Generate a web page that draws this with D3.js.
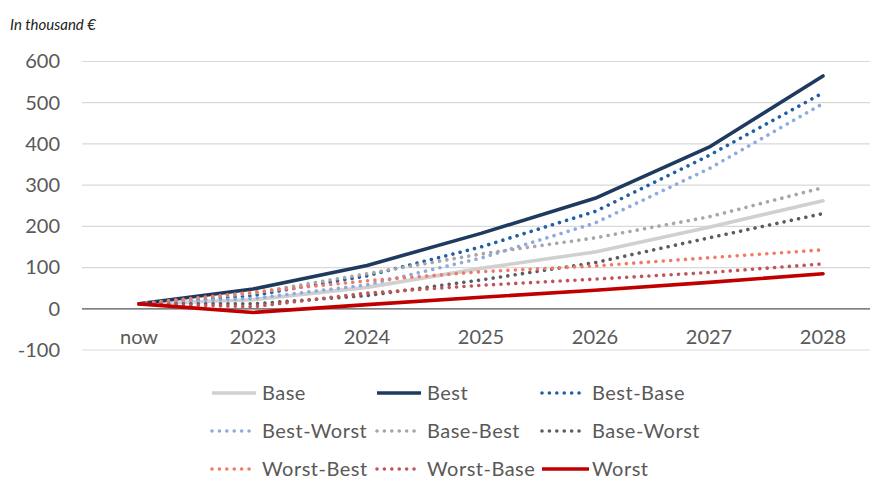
<!DOCTYPE html>
<html>
<head>
<meta charset="utf-8">
<script src="https://cdn.jsdelivr.net/npm/d3@7"></script>
<style>
  html, body { margin: 0; padding: 0; background: #fff; }
  svg { display: block; font-family: Lato, "Open Sans", sans-serif; }
</style>
</head>
<body>
<svg id="chart" width="873" height="479"></svg>
<script>
// Periods on the x axis
const periods = ["now", "2023", "2024", "2025", "2026", "2027", "2028"];
// Value axis ticks (in thousand €)
const yTicks = [-100, 0, 100, 200, 300, 400, 500, 600];

// Scenario paths, values in thousand €
const base       = [12, 22, 52, 98, 138, 198, 262];
const best       = [12, 48, 105, 183, 268, 392, 565];
const bestBase   = [12, 32, 80, 150, 236, 372, 524];
const bestWorst  = [12, 25, 58, 123, 208, 340, 498];
const baseBest   = [12, 38, 85, 133, 172, 223, 294];
const baseWorst  = [12, 12, 32, 70, 112, 172, 231];
const worstBest  = [12, 40, 68, 90, 104, 124, 143];
const worstBase  = [12, 5, 38, 57, 72, 88, 109];
const worst      = [12, -9, 10, 28, 45, 64, 85];

const seriesNames = ["Base", "Best", "Best-Base", "Best-Worst", "Base-Best",
                     "Base-Worst", "Worst-Best", "Worst-Base", "Worst"];
const seriesValues = [base, best, bestBase, bestWorst, baseBest,
                      baseWorst, worstBest, worstBase, worst];
const seriesColors = ["#d0d0d0", "#1f3a5f", "#1f5fa6", "#8eaae0", "#a6a6a6",
                      "#5c5c5c", "#f07a68", "#c0545a", "#c00000"];
const seriesDotted = [false, false, true, true, true, true, true, true, false];

const svg = d3.select("#chart");
const textColor = "#595959";

const x = d3.scaleBand().domain(periods).range([82, 880]);
const y = d3.scaleLinear().domain([-100, 600]).range([350, 61.5]);

// Unit note
svg.append("text")
  .attr("x", 10).attr("y", 30)
  .attr("font-size", 15).attr("font-style", "italic")
  .attr("fill", "#222")
  .text("In thousand €");

// Gridlines
svg.append("g").selectAll("line")
  .data(yTicks)
  .join("line")
  .attr("x1", 82).attr("x2", 870)
  .attr("y1", d => y(d)).attr("y2", d => y(d))
  .attr("stroke", d => d === 0 ? "#555" : "#d9d9d9")
  .attr("stroke-width", d => d === 0 ? 1.3 : 1.2);

// Y axis labels (plain hyphen for negatives)
const yAxis = svg.append("g")
  .attr("transform", "translate(68,0)")
  .call(d3.axisLeft(y).tickValues(yTicks).tickFormat(d => String(d))
    .tickSize(0).tickPadding(8));
yAxis.select(".domain").remove();
yAxis.selectAll("text")
  .attr("font-size", 20).attr("fill", textColor)
  .attr("font-family", "Lato, 'Open Sans', sans-serif");

// X axis labels
const xAxis = svg.append("g")
  .attr("transform", "translate(0,330)")
  .call(d3.axisBottom(x).tickSize(0).tickPadding(0));
xAxis.select(".domain").remove();
xAxis.selectAll("text")
  .attr("font-size", 20).attr("fill", textColor)
  .attr("dy", "0.71em")
  .attr("font-family", "Lato, 'Open Sans', sans-serif");

// Scenario lines
const line = d3.line()
  .x((d, i) => x(periods[i]) + x.bandwidth() / 2)
  .y(d => y(d));

const lines = svg.append("g");
seriesNames.forEach((name, k) => {
  lines.append("path")
    .datum(seriesValues[k])
    .attr("d", line)
    .attr("fill", "none")
    .attr("stroke", seriesColors[k])
    .attr("stroke-width", 3.6)
    .attr("stroke-linecap", "round")
    .attr("stroke-linejoin", "round")
    .attr("stroke-dasharray", seriesDotted[k] ? "0.01 7.4" : null);
});

// Legend: three columns, three rows
const legendCols = [210, 375, 540];
const legendRows = [393, 431, 469];
const legend = svg.append("g");
seriesNames.forEach((name, k) => {
  const cx = legendCols[k % 3];
  const cy = legendRows[Math.floor(k / 3)];
  const sampleLen = name === "Worst" ? 49 : 46;
  legend.append("line")
    .attr("x1", cx + 2).attr("x2", cx + sampleLen)
    .attr("y1", cy).attr("y2", cy)
    .attr("stroke", seriesColors[k])
    .attr("stroke-width", 3.6)
    .attr("stroke-linecap", seriesDotted[k] ? "round" : "butt")
    .attr("stroke-dasharray", seriesDotted[k] ? "0.01 7.4" : null);
  legend.append("text")
    .attr("x", cx + 52).attr("y", cy)
    .attr("dy", "0.35em")
    .attr("font-size", 20).attr("letter-spacing", 0.5)
    .attr("fill", textColor)
    .text(name);
});
</script>
</body>
</html>
